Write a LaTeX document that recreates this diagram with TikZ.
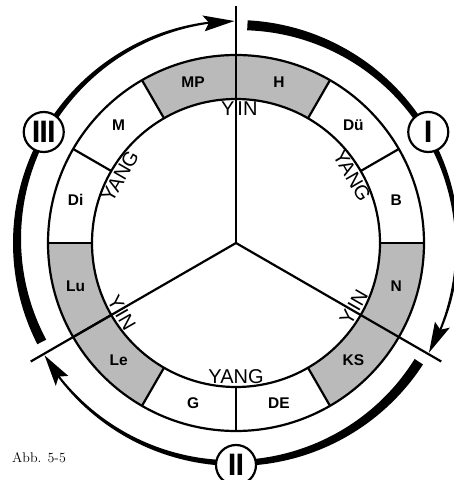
\documentclass[tikz,border=0pt]{standalone}
\usepackage{fontspec}
\newfontfamily\helv{Liberation Sans}
\begin{document}
\begin{tikzpicture}[x=1pt,y=1pt,
  ring/.style={line width=2.2pt},
  seglabel/.style={font=\helv\bfseries\fontsize{15.5}{15.5}\selectfont, inner sep=0pt},
  yy/.style={font=\helv\fontsize{20}{20}\selectfont, inner sep=0pt},
  numcirc/.style={circle, draw, fill=white, line width=2.2pt, minimum size=40pt, inner sep=0pt, font=\helv\bfseries\fontsize{31}{31}\selectfont},
  shadedseg/.style={fill=black!27}]
\useasboundingbox (-236,-237) rectangle (218,243);
\coordinate (O) at (0,0);
% shaded segments
\foreach \a in {90,60,-30,-60,180,210}
  \fill[shadedseg] (\a:144) arc[start angle=\a, end angle={\a+30}, radius=144]
     -- ({\a+30}:188) arc[start angle={\a+30}, end angle=\a, radius=188] -- cycle;
% rings
\draw[ring] (O) circle[radius=144];
\draw[ring] (O) circle[radius=188];
% segment boundaries
\foreach \a in {120,60,30,0,-60,-90,-120,-150,180,150}
  \draw[ring] (\a:144) -- (\a:188);
% spokes
\foreach \a/\n in {90/t,-30/r,210/l} {
  \coordinate (s\n) at (\a:237);
  \draw[ring] (O) -- (s\n);
}
% segment labels
\foreach \a/\t/\n in {105/MP/mp,75/H/h,45/Dü/du,15/B/b,-15/N/n,-45/KS/ks,-75/DE/de,-105/G/g,-135/Le/le,-165/Lu/lu,165/Di/di,135/M/m}
  \node[seglabel] (lab\n) at (\a:166) {\t};
% YIN / YANG
\node[yy] (yin1) at (90:134) {\makebox[0pt][r]{Y\kern1.5pt}\makebox[0pt][l]{\kern1.5pt IN}};
\node[yy, rotate=60] (yin2) at (-30:134) {\makebox[0pt][r]{Y\kern1.5pt}\makebox[0pt][l]{\kern1.5pt IN}};
\node[yy, rotate=-60] (yin3) at (210:134) {\makebox[0pt][r]{Y\kern1.5pt}\makebox[0pt][l]{\kern1.5pt IN}};
\node[yy, rotate=60] (yang1) at (150:134) {YANG};
\node[yy, rotate=-60] (yang2) at (30:134) {YANG};
\node[yy] (yang3) at (270:134) {YANG};
% outer tapered arrows
\foreach \s in {90,-30,210} {
  \pgfmathsetmacro\ta{\s-3}
  \pgfmathsetmacro\tb{\s-120+6.5}
  \fill plot[domain=\ta:\tb, samples=80] (\x:223)
     -- plot[domain=\tb:\ta, samples=80] (\x:{221-8*(\x-\tb)/(\ta-\tb)}) -- cycle;
  \fill ({\s-120+0.4}:222) -- ({\s-120+8.4}:230) -- ({\s-120+7}:222) -- ({\s-120+8.4}:214) -- cycle;
}
% numeral circles
\node[numcirc] (c1) at (30:222) {I};
\node[numcirc] (c2) at (-90:222) {I\kern-1pt I};
\node[numcirc] (c3) at (150:222) {I\kern-1pt I\kern-1pt I};
% caption
\node[anchor=base west, inner sep=0pt, font=\fontsize{14}{14}\selectfont] (abb) at (-224,-219) {Abb. 5-5};
\end{tikzpicture}
\end{document}
